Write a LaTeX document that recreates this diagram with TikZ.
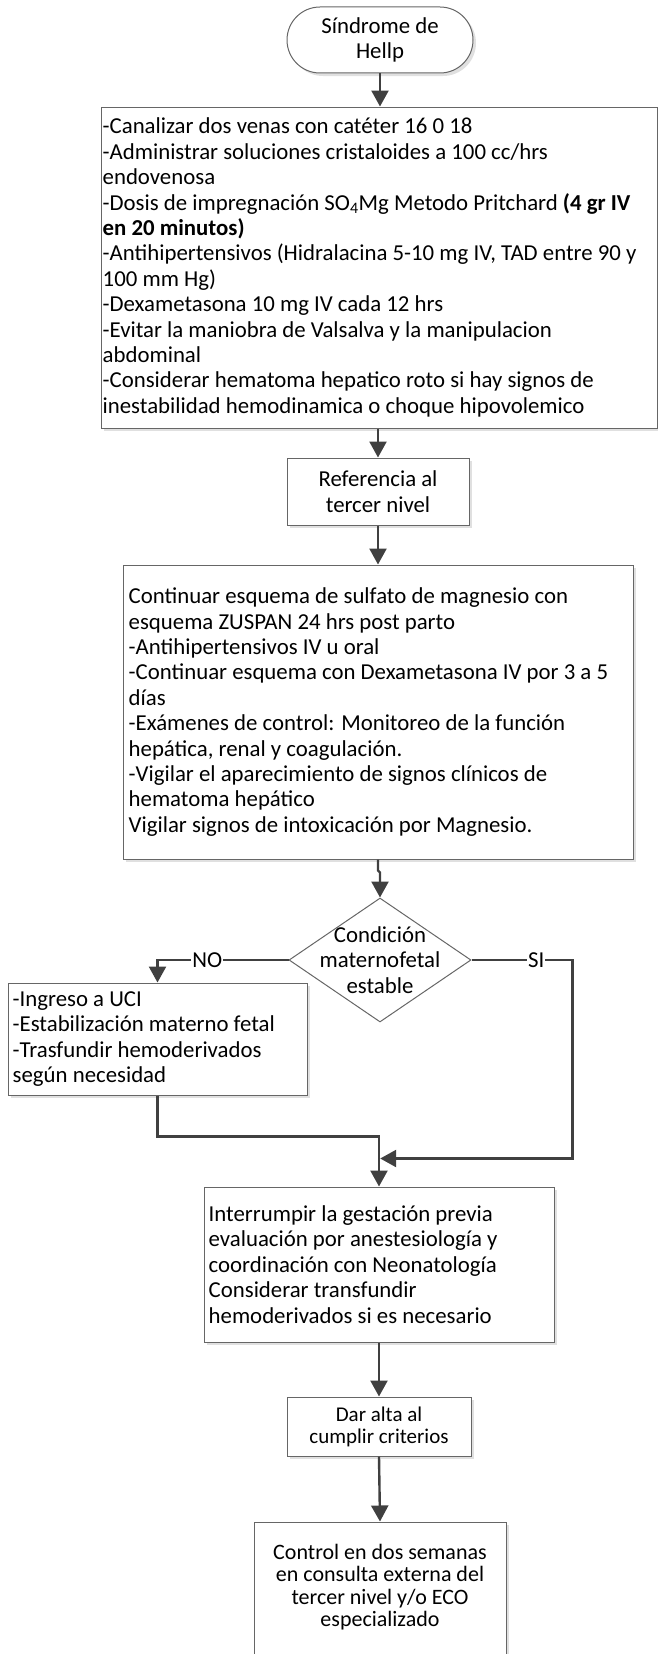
\documentclass[tikz,border=0pt]{standalone}
\usepackage{fontspec}
\setmainfont{Carlito}
\usetikzlibrary{arrows.meta,shapes.geometric,shapes.misc,shadows,calc}
\begin{document}
\begin{tikzpicture}[x=1pt,y=-1pt,
  box/.style={draw=black!60, line width=1pt, fill=white, rectangle, inner sep=0pt,
    general shadow={fill=black!12, shadow xshift=3pt, shadow yshift=-3pt}},
  txt/.style={inner sep=0pt, font=\fontsize{22.8}{25.4}\selectfont},
  conn/.style={draw=black!75, line width=2.4pt, -{Triangle[width=17pt,length=16pt]}},
  lab/.style={fill=white, inner xsep=1pt, inner ysep=0pt, font=\fontsize{22.8}{25.4}\selectfont}]
\useasboundingbox (0,0) rectangle (658,1654);

\node[box, rounded rectangle, minimum width=186pt, minimum height=66pt] (term) at (380,40) {};
\node[txt, align=center] (termt) at (term.center) {Síndrome de\\Hellp};

\node[box, minimum width=556pt, minimum height=321pt] (b1) at (379,267.5) {};
\node[txt, align=left, anchor=west] (b1t) at ($(b1.west)+(2,0)$) {-Canalizar dos venas con catéter 16 0 18\\
-Administrar soluciones cristaloides a 100 cc/hrs\\
endovenosa\\
-Dosis de impregnación SO\textsubscript{4}Mg Metodo Pritchard \textbf{(4 gr IV}\\
\textbf{en 20 minutos)}\\
-Antihipertensivos (Hidralacina 5-10 mg IV, TAD entre 90 y\\
100 mm Hg)\\
-Dexametasona 10 mg IV cada 12 hrs\\
-Evitar la maniobra de Valsalva y la manipulacion\\
abdominal\\
-Considerar hematoma hepatico roto si hay signos de\\
inestabilidad hemodinamica o choque hipovolemico};

\node[box, minimum width=182pt, minimum height=67pt] (b2) at (378,491.5) {};
\node[txt, align=center] (b2t) at (b2.center) {Referencia al\\tercer nivel};

\node[box, minimum width=510pt, minimum height=294pt] (b3) at (378,712) {};
\node[txt, align=left, anchor=west] (b3t) at ($(b3.west)+(6,0)$) {Continuar esquema de sulfato de magnesio con\\
esquema ZUSPAN 24 hrs post parto\\
-Antihipertensivos IV u oral\\
-Continuar esquema con Dexametasona IV por 3 a 5\\
días\\
-Exámenes de control: Monitoreo de la función\\
hepática, renal y coagulación.\\
-Vigilar el aparecimiento de signos clínicos de\\
hematoma hepático\\
Vigilar signos de intoxicación por Magnesio.};

\node[draw=black!60, line width=1pt, fill=white, diamond, minimum width=182pt, minimum height=124pt, inner sep=0pt] (d) at (380,960) {};
\node[txt, align=center] (dt) at (d.center) {Condición\\maternofetal\\estable};

\node[box, minimum width=299pt, minimum height=112pt] (ing) at (157.5,1039) {};
\node[txt, align=left, anchor=west] (ingt) at ($(ing.west)+(5,0)$) {-Ingreso a UCI\\
-Estabilización materno fetal\\
-Trasfundir hemoderivados\\
según necesidad};

\node[box, minimum width=350pt, minimum height=155pt] (b4) at (379,1264.5) {};
\node[txt, align=left, anchor=west] (b4t) at ($(b4.west)+(5,0)$) {Interrumpir la gestación previa\\
evaluación por anestesiología y\\
coordinación con Neonatología\\
Considerar transfundir\\
hemoderivados si es necesario};

\node[box, minimum width=184pt, minimum height=59pt] (b5) at (379,1426.5) {};
\node[txt, align=center, font=\fontsize{21}{22}\selectfont] (b5t) at (b5.center) {Dar alta al\\cumplir criterios};

\node[box, minimum width=252pt, minimum height=142pt] (b6) at (380,1593) {};
\node[txt, align=center, font=\fontsize{22}{22.5}\selectfont] (b6t) at (380,1587) {Control en dos semanas\\en consulta externa del\\tercer nivel y/o ECO\\especializado};

\draw[conn] (term.south) -- (term.south |- b1.north);
\draw[conn] (b2.north |- b1.south) -- (b2.north);
\draw[conn] (b2.south) -- (b3.north);
\draw[conn] (b3.south) -- ++(0,11) -- ($(d.north)+(0,-25)$) -- (d.north);
\coordinate (nocorner) at (ing.north |- d.west);
\draw[conn] (d.west) -- node[lab, pos=0.62]{NO} (nocorner) -- (ing.north);
\coordinate (sicorner) at ($(d.east)+(101,0)$);
\coordinate (merge) at ($(b4.north)+(1.2,-28)$);
\draw[conn] (d.east) -- node[lab, pos=0.64]{SI} (sicorner) |- (merge);
\draw[conn] (ing.south) |- ($(b4.north)+(0,-50)$) -- (b4.north);
\draw[conn] (b4.south) -- (b5.north);
\draw[conn] (b5.south) -- (b6.north);
\end{tikzpicture}
\end{document}
